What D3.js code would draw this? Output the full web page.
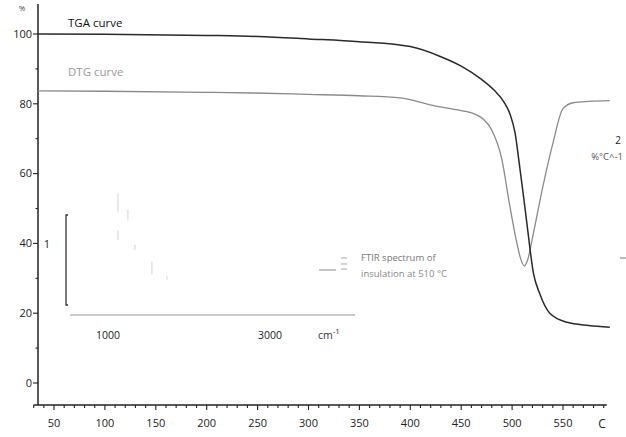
<!DOCTYPE html>
<html>
<head>
<meta charset="utf-8">
<script src="https://cdn.jsdelivr.net/npm/d3@7"></script>
<style>
  body { margin: 0; background: #fff; }
  svg { font-family: "Open Sans", "DejaVu Sans", sans-serif; }
  .tick-label { font-size: 11px; fill: #222; }
  .axis-line { stroke: #222; stroke-width: 1.5; fill: none; }
  .tga { stroke: #2a2a2a; stroke-width: 1.5; fill: none; }
  .dtg { stroke: #8a8a8a; stroke-width: 1.3; fill: none; }
</style>
</head>
<body>
<div id="chart"></div>
<script>
// TGA curve (mass %) vs temperature
var tgaTemp = [34, 100, 200, 250, 300, 350, 400, 430, 450, 470, 482, 492, 498, 503, 507, 511, 515, 521, 527, 537, 554, 575, 596];
var tgaMass = [100, 99.9, 99.6, 99.3, 98.6, 97.8, 96.4, 93.5, 90.8, 87, 84, 80.5, 77, 71.5, 63, 54, 44.6, 31.4, 25.7, 20, 17.4, 16.5, 16];

// DTG curve (drawn on the same % scale, offset)
var dtgTemp = [34, 100, 200, 245, 300, 350, 390, 423, 445, 460, 472, 480, 490, 497, 504, 508, 512, 515, 521, 530, 540, 550, 560, 575, 596];
var dtgVal = [83.7, 83.6, 83.3, 83.1, 82.7, 82.3, 81.7, 79.5, 78.3, 77.4, 75.5, 72.5, 64, 52, 41, 36, 33.5, 35, 43, 56, 68.6, 78.6, 80.3, 80.7, 80.9];

// inset FTIR spectrum: faint peak segments [wavenumber, absorbance top, absorbance bottom]
var ftirWave = [1122, 1245, 1122, 1331, 1541, 1726];
var ftirTop = [1.24, 1.06, 0.83, 0.67, 0.48, 0.32];
var ftirBottom = [1.03, 0.94, 0.72, 0.61, 0.34, 0.28];

var xTicks = [50, 100, 150, 200, 250, 300, 350, 400, 450, 500, 550];
var yTicks = [0, 20, 40, 60, 80, 100];
var insetTicks = [1000, 3000];

var width = 626, height = 437;

var svg = d3.select("#chart").append("svg")
    .attr("width", width)
    .attr("height", height);

// main scales
var x = d3.scaleLinear().domain([50, 550]).range([54, 563]);
var y = d3.scaleLinear().domain([0, 100]).range([383, 34]);
var axisY = 405, axisX = 38;

// x axis
svg.append("line").attr("class", "axis-line")
    .attr("x1", x(30)).attr("x2", x(593))
    .attr("y1", axisY).attr("y2", axisY);

svg.append("g").selectAll("line")
    .data(d3.range(30, 600, 10))
    .enter().append("line")
    .attr("x1", function(d) { return x(d); })
    .attr("x2", function(d) { return x(d); })
    .attr("y1", axisY)
    .attr("y2", function(d) { return axisY + (d % 50 === 0 ? 5 : 3); })
    .attr("stroke", "#222").attr("stroke-width", 1.1);

svg.append("g").selectAll("text")
    .data(xTicks)
    .enter().append("text")
    .attr("class", "tick-label")
    .attr("x", function(d) { return x(d); })
    .attr("y", 427)
    .attr("text-anchor", "middle")
    .text(function(d) { return d; });

svg.append("text").attr("class", "tick-label")
    .attr("x", 602).attr("y", 428)
    .attr("text-anchor", "middle")
    .style("font-size", "12px")
    .text("C");

// y axis
svg.append("line").attr("class", "axis-line")
    .attr("x1", axisX).attr("x2", axisX)
    .attr("y1", 4).attr("y2", axisY);

svg.append("g").selectAll("line")
    .data(d3.range(0, 101, 10))
    .enter().append("line")
    .attr("x1", function(d) { return axisX - (d % 20 === 0 ? 5 : 2.5); })
    .attr("x2", axisX)
    .attr("y1", function(d) { return y(d); })
    .attr("y2", function(d) { return y(d); })
    .attr("stroke", "#222").attr("stroke-width", 1.1);

svg.append("g").selectAll("text")
    .data(yTicks)
    .enter().append("text")
    .attr("class", "tick-label")
    .attr("x", 32)
    .attr("y", function(d) { return y(d); })
    .attr("dy", "0.35em")
    .attr("text-anchor", "end")
    .text(function(d) { return d; });

svg.append("text")
    .attr("x", 22).attr("y", 11)
    .attr("text-anchor", "middle")
    .style("font-size", "8px").style("fill", "#444")
    .text("%");

// curves
var line = d3.line().curve(d3.curveMonotoneX);

svg.append("path").attr("class", "dtg")
    .attr("d", line(dtgTemp.map(function(t, i) { return [x(t), y(dtgVal[i])]; })));

svg.append("path").attr("class", "tga")
    .attr("d", line(tgaTemp.map(function(t, i) { return [x(t), y(tgaMass[i])]; })));

// curve labels
svg.append("text")
    .attr("x", 68).attr("y", 27)
    .style("font-size", "11.5px").style("fill", "#111")
    .text("TGA curve");

svg.append("text")
    .attr("x", 68).attr("y", 76)
    .style("font-size", "11.5px").style("fill", "#999")
    .text("DTG curve");

// right side DTG scale note
svg.append("text")
    .attr("x", 621).attr("y", 144)
    .attr("text-anchor", "end")
    .style("font-size", "10px").style("fill", "#222")
    .text("2");

svg.append("text")
    .attr("x", 623).attr("y", 160)
    .attr("text-anchor", "end")
    .style("font-size", "9.5px").style("fill", "#555")
    .text("%°C^-1");

svg.append("line")
    .attr("x1", 620).attr("x2", 626)
    .attr("y1", 258).attr("y2", 258)
    .attr("stroke", "#777").attr("stroke-width", 1);

// ---- FTIR inset ----
var ix = d3.scaleLinear().domain([530, 4050]).range([70, 355]);
var iy = d3.scaleLinear().domain([0, 1]).range([305, 215]);

// absorbance scale bar
svg.append("path")
    .attr("d", "M" + (ix(530) - 2) + "," + iy(1) + "H" + (ix(530) - 4) + "V" + iy(0) + "H" + (ix(530) - 2))
    .attr("fill", "none").attr("stroke", "#333").attr("stroke-width", 1.3);

svg.append("text")
    .attr("x", 47).attr("y", iy(0.68))
    .attr("dy", "0.35em")
    .attr("text-anchor", "middle")
    .style("font-size", "11px").style("fill", "#222")
    .text("1");

// inset wavenumber axis
svg.append("line")
    .attr("x1", ix(530)).attr("x2", ix(4050))
    .attr("y1", 315).attr("y2", 315)
    .attr("stroke", "#999").attr("stroke-width", 1.2);

svg.append("g").selectAll("text")
    .data(insetTicks)
    .enter().append("text")
    .attr("class", "tick-label")
    .attr("x", function(d) { return ix(d); })
    .attr("y", 339)
    .attr("text-anchor", "middle")
    .style("font-size", "10.5px")
    .text(function(d) { return d; });

var cm = svg.append("text")
    .attr("x", 318).attr("y", 339)
    .style("font-size", "10.5px").style("fill", "#333")
    .text("cm");
cm.append("tspan").attr("dy", -5).style("font-size", "8px").text("-1");

// faint spectrum peaks
svg.append("g").selectAll("line")
    .data(ftirWave)
    .enter().append("line")
    .attr("x1", function(d) { return ix(d); })
    .attr("x2", function(d) { return ix(d); })
    .attr("y1", function(d, i) { return iy(ftirTop[i]); })
    .attr("y2", function(d, i) { return iy(ftirBottom[i]); })
    .attr("stroke", "#dcdcdc").attr("stroke-width", 1.2);

// FTIR legend marker and label
svg.append("line")
    .attr("x1", 319).attr("x2", 336)
    .attr("y1", 270).attr("y2", 270)
    .attr("stroke", "#888").attr("stroke-width", 1);
svg.append("path")
    .attr("d", "M341,258H347M341,264H347M341,269H347")
    .attr("stroke", "#aaa").attr("stroke-width", 1.2);

svg.append("text")
    .attr("x", 361).attr("y", 261)
    .style("font-size", "9.5px").style("fill", "#777")
    .text("FTIR spectrum of");
svg.append("text")
    .attr("x", 361).attr("y", 277)
    .style("font-size", "9.5px").style("fill", "#888")
    .text("insulation at 510 °C");
</script>
</body>
</html>
